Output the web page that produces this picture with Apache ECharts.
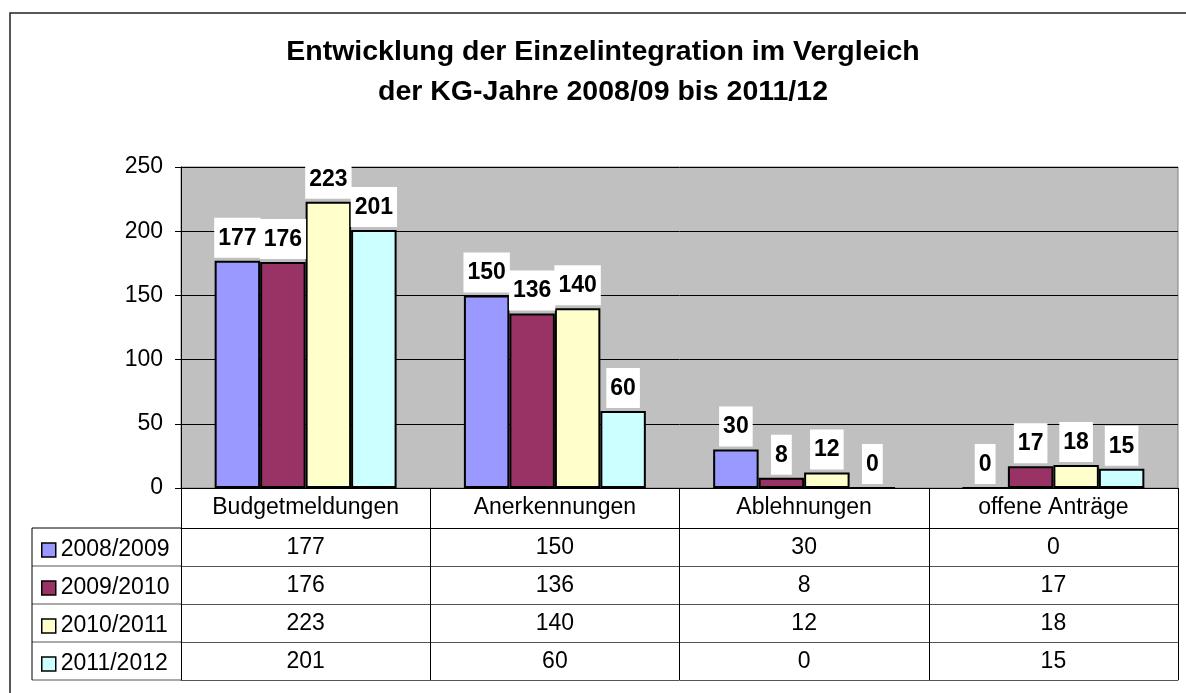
<!DOCTYPE html>
<html>
<head>
<meta charset="utf-8">
<script src="https://cdn.jsdelivr.net/npm/echarts@6/dist/echarts.min.js"></script>
<style>
  html, body { margin: 0; padding: 0; background: #fff; }
  #chart { width: 1186px; height: 693px; }
</style>
</head>
<body>
<div id="chart"></div>
<script>
var categories = ['Budgetmeldungen', 'Anerkennungen', 'Ablehnungen', 'offene Anträge'];
var seriesNames = ['2008/2009', '2009/2010', '2010/2011', '2011/2012'];
var v2008 = [177, 150, 30, 0];
var v2009 = [176, 136, 8, 17];
var v2010 = [223, 140, 12, 18];
var v2011 = [201, 60, 0, 15];
var colors = ['#9999FF', '#993366', '#FFFFCC', '#CCFFFF'];
var yTicks = [0, 50, 100, 150, 200, 250];

var values = [v2008, v2009, v2010, v2011];
var font = 'Liberation Sans, Arial, sans-serif';

// table layout below the plot
var gridLeft = 181, gridRight = 8, gridTop = 167, gridBottom = 205;
var baseY = 693 - gridBottom;
var headerH = 40, rowH = 38, tableLeft = 32;

var chart = echarts.init(document.getElementById('chart'));

// one x axis per table row, stacked with offsets
var xAxes = [];
for (var r = 0; r <= seriesNames.length + 1; r++) {
    (function (r) {
        var offset = r === 0 ? 0 : headerH + (r - 1) * rowH;
        var isLast = r === seriesNames.length + 1;
        xAxes.push({
            type: 'category',
            data: categories,
            position: 'bottom',
            offset: offset,
            gridIndex: 0,
            axisLine: { show: true, lineStyle: { color: r <= 1 ? '#000' : '#555', width: 1 } },
            axisTick: {
                show: !isLast,
                interval: 0,
                length: r === 0 ? headerH : rowH,
                lineStyle: { color: '#000', width: 1 }
            },
            axisLabel: {
                show: !isLast,
                interval: 0,
                margin: 8,
                fontSize: 23,
                lineHeight: 23,
                fontFamily: font,
                color: '#000',
                formatter: function (val, idx) {
                    if (r === 0) return val;
                    return String(values[r - 1][idx]);
                }
            },
            splitLine: { show: false }
        });
    })(r);
}

var series = seriesNames.map(function (name, i) {
    return {
        name: name,
        type: 'bar',
        xAxisIndex: 0,
        data: values[i],
        barGap: '0%',
        barCategoryGap: '27%',
        itemStyle: { color: colors[i], borderColor: '#000', borderWidth: 2 },
        label: {
            show: true,
            position: 'top',
            distance: 3,
            fontSize: 23,
            fontWeight: 'bold',
            fontFamily: font,
            color: '#000',
            backgroundColor: '#fff',
            padding: [9, 4, 8, 4]
        },
        emphasis: { disabled: true }
    };
});

// outer frame and the lines of the legend column of the table
var graphics = [{
    type: 'rect',
    shape: { x: 10, y: 13, width: 1200, height: 700 },
    style: { fill: 'none', stroke: '#222', lineWidth: 1.5 },
    silent: true
}];
var tableBottom = baseY + headerH + seriesNames.length * rowH;
for (var k = 0; k <= seriesNames.length; k++) {
    var y = baseY + headerH + k * rowH;
    graphics.push({
        type: 'line',
        shape: { x1: tableLeft, y1: y, x2: gridLeft, y2: y },
        style: { stroke: k === 0 ? '#000' : '#555', lineWidth: 1 },
        silent: true
    });
}
graphics.push({
    type: 'line',
    shape: { x1: tableLeft, y1: baseY + headerH, x2: tableLeft, y2: tableBottom },
    style: { stroke: '#000', lineWidth: 1 },
    silent: true
});

var option = {
    animation: false,
    backgroundColor: '#fff',
    color: colors,
    title: {
        text: 'Entwicklung der Einzelintegration im Vergleich\nder KG-Jahre 2008/09 bis 2011/12',
        left: 603,
        top: 32,
        padding: 0,
        textAlign: 'center',
        textStyle: {
            fontSize: 28.5,
            fontWeight: 'bold',
            fontFamily: font,
            color: '#000',
            lineHeight: 40
        }
    },
    legend: {
        orient: 'vertical',
        left: tableLeft + 4,
        top: baseY + headerH - 2,
        itemWidth: 14,
        itemHeight: 14,
        itemGap: 0,
        selectedMode: false,
        icon: 'rect',
        itemStyle: { borderColor: '#000', borderWidth: 1.5 },
        textStyle: { fontSize: 23, fontFamily: font, color: '#000', lineHeight: rowH },
        data: seriesNames
    },
    grid: {
        left: gridLeft,
        right: gridRight,
        top: gridTop,
        bottom: gridBottom,
        show: true,
        backgroundColor: '#C0C0C0',
        borderColor: '#808080',
        borderWidth: 1
    },
    xAxis: xAxes,
    yAxis: {
        type: 'value',
        min: yTicks[0],
        max: yTicks[yTicks.length - 1],
        interval: 50,
        axisLine: { show: true, lineStyle: { color: '#000', width: 1 } },
        axisTick: { show: true, length: 6, lineStyle: { color: '#000' } },
        axisLabel: { fontSize: 23, fontFamily: font, color: '#000', margin: 18 },
        splitLine: { show: true, lineStyle: { color: '#000', width: 1 } }
    },
    graphic: graphics,
    series: series
};

chart.setOption(option);
</script>
</body>
</html>
